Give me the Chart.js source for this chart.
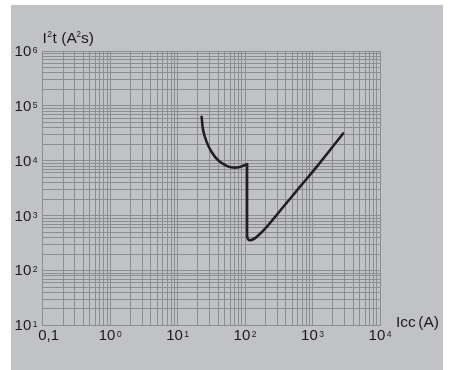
<!DOCTYPE html>
<html>
<head>
<meta charset="utf-8">
<script src="https://cdn.jsdelivr.net/npm/chart.js@4.4.1/dist/chart.umd.min.js"></script>
<style>
  html, body { margin: 0; padding: 0; background: #fff; }
  #wrap { position: absolute; left: 11px; top: 5px; width: 432px; height: 365px; background: #c1c2c6; }
</style>
</head>
<body>
<div id="wrap"><canvas id="c" width="432" height="365"></canvas></div>
<script>
// curve: Icc (A) -> I2t (A2s)
const leftIcc = [22.7, 23.9, 26.9, 31.9, 39.9, 53.2, 66.7, 83.8, 107];
const leftI2t = [63200, 36100, 22100, 14500, 10250, 8070, 7540, 7740, 8670];
const dropIcc = [107, 107];
const dropI2t = [8670, 420];
const riseIcc = [107, 112, 120, 132, 148, 208, 367, 649, 1150, 2840];
const riseI2t = [420, 365, 358, 372, 408, 622, 1440, 3340, 7740, 31500];

// tick labels
const xTicks = [0.1, 1, 10, 100, 1000, 10000];
const xTickBase = ['0,1', '10', '10', '10', '10', '10'];
const xTickSup = ['', '0', '1', '2', '3', '4'];
const yTicks = [10, 100, 1000, 10000, 100000, 1000000];
const yTickBase = ['10', '10', '10', '10', '10', '10'];
const yTickSup = ['1', '2', '3', '4', '5', '6'];

const FONT = '"Liberation Sans", Arial, sans-serif';
const GRID = '#8c8d91';

function pts(xs, ys) {
  return xs.map((x, i) => ({x: x, y: ys[i]}));
}

// 1..9 x 10^n gridlines
function logGrid(scale) {
  const out = [];
  const e0 = Math.floor(Math.log10(scale.min) + 1e-9);
  const e1 = Math.ceil(Math.log10(scale.max) - 1e-9);
  for (let e = e0; e <= e1; e++) {
    for (let m = 1; m <= 9; m++) {
      const v = parseFloat((m * Math.pow(10, e)).toPrecision(3));
      if (v >= scale.min * 0.999 && v <= scale.max * 1.001) out.push({value: v});
    }
  }
  scale.ticks = out;
}

function drawPow(ctx, base, sup, x, y, align) {
  ctx.font = '15px ' + FONT;
  const wb = ctx.measureText(base).width;
  ctx.font = '8.5px ' + FONT;
  const ws = sup ? ctx.measureText(sup).width + 1.5 : 0;
  const w = wb + ws;
  let left = x;
  if (align === 'center') left = x - w / 2;
  if (align === 'right') left = x - w;
  ctx.textBaseline = 'alphabetic';
  ctx.textAlign = 'left';
  ctx.font = '15px ' + FONT;
  ctx.fillText(base, left, y + 5.3);
  if (sup) {
    ctx.font = '8.5px ' + FONT;
    ctx.fillText(sup, left + wb + 1.5, y + 2.3);
  }
}

const labels = {
  id: 'labels',
  afterDraw(chart) {
    const ctx = chart.ctx;
    const xs = chart.scales.x, ys = chart.scales.y;
    ctx.save();
    ctx.fillStyle = '#1a1a1a';
    xTicks.forEach((v, i) => {
      let px = xs.getPixelForValue(v);
      if (i === 0) px += 6;
      drawPow(ctx, xTickBase[i], xTickSup[i], px, chart.chartArea.bottom + 9.5, 'center');
    });
    yTicks.forEach((v, i) => {
      drawPow(ctx, yTickBase[i], yTickSup[i], 26.5, ys.getPixelForValue(v) - 0.5, 'right');
    });

    // axis titles
    ctx.textBaseline = 'alphabetic';
    ctx.textAlign = 'left';
    let x = 31.5, y = 38;
    const part = (t, big) => {
      ctx.font = (big ? '15.5px ' : '8.5px ') + FONT;
      ctx.fillText(t, x, big ? y : y - 5.8);
      x += ctx.measureText(t).width;
    };
    part('I', true); x += 0.5; part('2', false); x += 0.5;
    part('t', true); x += 4.5; part('(A', true); x -= 0.5; part('2', false);
    part('s)', true);

    ctx.font = '15.5px ' + FONT;
    ctx.fillText('Icc', 385, 322);
    ctx.fillText('(A)', 385 + ctx.measureText('Icc').width + 2.5, 322);
    ctx.restore();
  }
};

const line = {
  borderColor: '#231f20',
  borderWidth: 2.6,
  pointRadius: 0,
  borderCapStyle: 'round',
  borderJoinStyle: 'round',
  fill: false
};

new Chart(document.getElementById('c').getContext('2d'), {
  type: 'line',
  data: {
    datasets: [
      Object.assign({data: pts(leftIcc, leftI2t), tension: 0.4}, line),
      Object.assign({data: pts(dropIcc, dropI2t), tension: 0}, line),
      Object.assign({data: pts(riseIcc, riseI2t), tension: 0.4}, line)
    ]
  },
  plugins: [labels],
  options: {
    responsive: false,
    animation: false,
    devicePixelRatio: 1,
    layout: { padding: { left: 31.7, top: 46, right: 63, bottom: 44.5 } },
    plugins: {
      legend: { display: false },
      tooltip: { enabled: false }
    },
    scales: {
      x: {
        type: 'logarithmic',
        min: 0.1,
        max: 10000,
        afterBuildTicks: logGrid,
        afterFit: s => { s.height = 0; },
        ticks: { display: false },
        grid: { color: GRID, lineWidth: 1, drawTicks: false },
        border: { color: GRID, width: 1 }
      },
      y: {
        type: 'logarithmic',
        min: 10,
        max: 1000000,
        afterBuildTicks: logGrid,
        afterFit: s => { s.width = 0; },
        ticks: { display: false },
        grid: { color: GRID, lineWidth: 1, drawTicks: false },
        border: { color: GRID, width: 1 }
      }
    }
  }
});
</script>
</body>
</html>
